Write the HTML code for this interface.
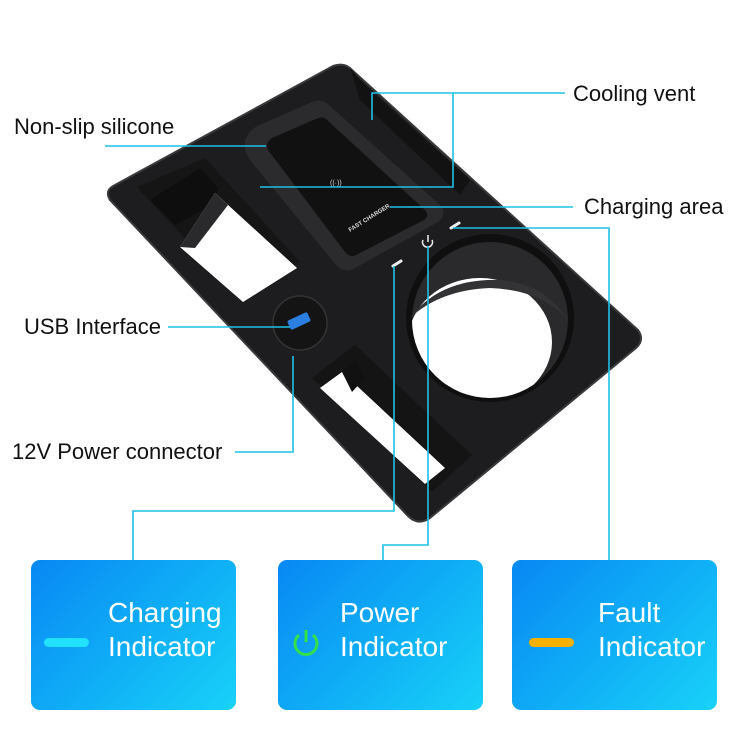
<!DOCTYPE html>
<html><head><meta charset="utf-8"><style>
body{margin:0;width:750px;height:750px;background:#fff;overflow:hidden;position:relative;font-family:"Liberation Sans",Arial,sans-serif}
.lbl{position:absolute;font-size:22px;color:#111;white-space:nowrap;line-height:1}
.box{position:absolute;top:560px;width:205px;height:150px;border-radius:9px;background:linear-gradient(135deg,#0888f4 0%,#10b0f6 55%,#18d2f8 100%)}
.bt{position:absolute;color:#fff;font-size:28px;line-height:34px;white-space:nowrap}
</style></head><body>
<svg width="750" height="750" style="position:absolute;left:0;top:0">
<defs><clipPath id="cc"><circle cx="490" cy="320" r="78"/></clipPath></defs>
<path d="M333,66 Q345,62 352,70 L638,330 Q645,340 636,348 L430,518 Q418,526 408,516 L110,200 Q104,190 115,185 Z" fill="#1d1d1f"/>
<path d="M333,66 Q345,62 352,70 L638,330 Q645,340 636,348 L430,518 Q418,526 408,516 L110,200 Q104,190 115,185 Z" fill="none" stroke="#3a3a3c" stroke-width="2"/>
<path d="M350,68 L372,92 L470,180 L460,195 L360,100 Z" fill="#121213"/>
<path d="M137,187 L205,158 L300,262 L240,298 Z" fill="#151516"/>
<path d="M150,200 L200,168 L218,188 L212,205 L175,225 Z" fill="#0e0e0f"/>
<path d="M180,247 L215,193 L297,268 L243,302 Z" fill="#fff"/>
<path d="M215,193 L228,205 L195,248 L180,247 Z" fill="#2a2a2c"/>
<path d="M245,140 Q250,128 262,124 L312,102 Q322,98 330,106 L440,205 Q448,214 438,222 L355,268 Q345,274 336,265 L250,160 Q243,150 245,140 Z" fill="#2b2b2d"/>
<path d="M272,138 L318,118 Q324,116 328,121 L425,210 Q430,216 424,220 L356,255 Q350,258 345,252 L268,150 Q265,142 272,138 Z" fill="#111112"/>
<text x="330" y="185" font-size="7" fill="#ddd" font-family="Liberation Sans">((·))</text>
<text x="350" y="232" font-size="6" fill="#ddd" font-weight="bold" transform="rotate(-32 350 232)" font-family="Liberation Sans">FAST CHARGER</text>
<circle cx="300" cy="323" r="27" fill="#141415" stroke="#333" stroke-width="1.5"/>
<rect x="288" y="316" width="22" height="10" rx="2" fill="#2a7fe0" transform="rotate(-25 299 321)"/>
<circle cx="490" cy="318" r="84" fill="#0f0f10"/>
<circle cx="490" cy="320" r="78" fill="#2a2a2c"/>
<ellipse cx="480" cy="342" rx="72" ry="64" fill="#fff" clip-path="url(#cc)"/>
<path d="M410,318 Q440,278 500,280 Q545,284 566,318 Q540,290 490,288 Q440,290 410,318 Z" fill="#333335"/>
<path d="M312,378 L355,345 L472,455 L432,492 Z" fill="#141415"/>
<path d="M320,388 L342,372 L445,468 L425,484 Z" fill="#fff"/>
<path d="M342,372 L355,360 L365,378 L352,392 Z" fill="#111"/>
<line x1="393" y1="266" x2="401" y2="261" stroke="#eee" stroke-width="3" stroke-linecap="round"/>
<line x1="451" y1="228" x2="459" y2="223" stroke="#eee" stroke-width="3" stroke-linecap="round"/>
<path d="M423,240 A5,5 0 1 0 432,240" fill="none" stroke="#eee" stroke-width="1.5"/>
<line x1="428" y1="235" x2="428" y2="242" stroke="#eee" stroke-width="1.5"/>
<g stroke="#1ec0e6" stroke-width="1.6" fill="none">
<polyline points="372,120 372,93 565,93"/>
<polyline points="453,93 453,187 260,187"/>
<line x1="105" y1="146" x2="266" y2="146"/>
<line x1="390" y1="207" x2="573" y2="207"/>
<polyline points="453,228 609,228 609,560"/>
<polyline points="428,246 428,545 383,545 383,560"/>
<polyline points="394,266 394,511 133,511 133,560"/>
<line x1="168" y1="327" x2="290" y2="327"/>
<polyline points="235,452 293,452 293,356"/>
</g>
</svg>
<div class="lbl" style="left:14px;top:116px">Non-slip silicone</div>
<div class="lbl" style="left:573px;top:83px">Cooling vent</div>
<div class="lbl" style="left:584px;top:196px">Charging area</div>
<div class="lbl" style="left:24px;top:316px">USB Interface</div>
<div class="lbl" style="left:12px;top:441px">12V Power connector</div>
<div class="box" style="left:31px"><div class="bt" style="left:77px;top:36px">Charging<br>Indicator</div>
<div style="position:absolute;left:13px;top:78px;width:45px;height:9px;border-radius:5px;background:#22e0ff"></div></div>
<div class="box" style="left:278px"><div class="bt" style="left:62px;top:36px">Power<br>Indicator</div>
<svg width="34" height="34" style="position:absolute;left:11px;top:66px"><path d="M10,9 A11,11 0 1 0 24,9" fill="none" stroke="#33e04a" stroke-width="3"/><line x1="17" y1="4" x2="17" y2="16" stroke="#33e04a" stroke-width="3"/></svg></div>
<div class="box" style="left:512px"><div class="bt" style="left:86px;top:36px">Fault<br>Indicator</div>
<div style="position:absolute;left:17px;top:78px;width:45px;height:9px;border-radius:5px;background:#f5b000"></div></div>
</body></html>
